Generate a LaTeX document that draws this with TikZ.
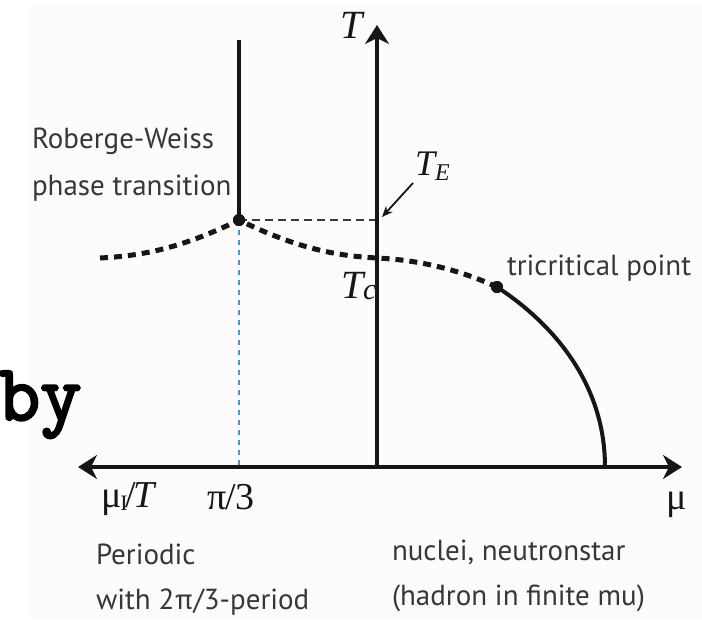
\documentclass[tikz,border=0pt]{standalone}
\usepackage{fontspec}
\setmainfont{PT Sans}
\newfontfamily\tmsfont{Liberation Serif}
\newfontfamily\slidefont[FakeBold=3]{Latin Modern Mono}
\usetikzlibrary{arrows.meta}

\definecolor{ink}{RGB}{22,22,22}
\definecolor{txtgray}{RGB}{55,55,55}
\definecolor{rwblue}{RGB}{70,150,210}
\definecolor{paper}{RGB}{253,251,252}

\begin{document}
\begin{tikzpicture}[x=1pt, y=-1pt,
  every node/.style={inner sep=0pt, outer sep=0pt},
  axis/.style={draw=ink, line width=4pt},
  axistip/.style={-{Stealth[length=19pt, width=24pt, inset=6pt]}},
  boundary/.style={draw=ink, line width=4pt},
  crossover/.style={draw=ink, line width=5pt, dash pattern=on 8pt off 6pt},
  guide/.style={draw=ink!85, line width=1.5pt, dash pattern=on 8pt off 5pt},
  rwguide/.style={draw=rwblue, line width=2.5pt, dash pattern=on 5pt off 5pt},
  pointer/.style={draw=ink, line width=1.8pt, -{Stealth[length=11pt, width=9pt]}},
  dot/.style={circle, fill=ink, minimum size=12pt},
  txt/.style={font=\fontsize{29}{29}\selectfont, text=txtgray, anchor=base west},
  mth/.style={font=\fontsize{38}{38}\selectfont\tmsfont, text=ink, anchor=base west},
  slide/.style={font=\fontsize{80}{80}\selectfont\slidefont, anchor=base west}
]
  \useasboundingbox (0,0) rectangle (702,619);
  \fill[paper] (30,3) rectangle (702,619);

  % --- leftovers of the slide text ---
  \node[slide] (frag) at (58,-22) {g};
  \node[slide] (by) at (-1,420) {by};

  % --- key points ---
  \coordinate (orig) at (377,467);
  \coordinate (ttop) at (377,25);
  \coordinate (muleft) at (78,467);
  \coordinate (muright) at (682,467);
  \coordinate (rwtop) at (239,40);
  \coordinate (rwfoot) at (239,467);
  \coordinate (te) at (377,220);
  \coordinate (tc) at (377,258);
  \coordinate (cleft) at (100,258);
  \coordinate (arcfoot) at (605,467);
  \coordinate (tefrom) at (413,183);
  \coordinate (teto) at (382,217);
  \node[dot] (rw) at (239,220) {};
  \node[dot] (tcp) at (497,287) {};

  % guides from the RW end point
  \draw[rwguide] (rw.center) -- (rwfoot);
  \draw[guide] (rw.center) -- (te);

  % axes
  \draw[axis, axistip] (orig) -- (ttop);
  \draw[axis, {Stealth[length=19pt, width=24pt, inset=6pt]}-{Stealth[length=19pt, width=24pt, inset=6pt]}] (muleft) -- (muright);

  % RW line, crossover, first order line
  \draw[boundary] (rw.center) -- (rwtop);
  \draw[crossover] (cleft) .. controls (138,256) and (178,250) .. (rw.center)
    .. controls (300,250) and (340,256) .. (tc)
    .. controls (420,260) and (460,270) .. (tcp.center);
  \draw[boundary] (tcp.center) .. controls (555,325) and (605,385) .. (arcfoot);
  \node[dot] at (rw.center) {};
  \node[dot] at (tcp.center) {};

  \draw[pointer] (tefrom) -- (teto);

  % --- labels ---
  \node[mth, font=\fontsize{40}{40}\selectfont\tmsfont\itshape] (tlab) at (340,38) {T};
  \node[mth, font=\fontsize{36}{36}\selectfont\tmsfont\itshape] (telab) at (415,175)
    {T\raisebox{-5pt}{\fontsize{24}{24}\selectfont E}};
  \node[mth, font=\fontsize{40}{40}\selectfont\tmsfont\itshape] (tclab) at (341,298)
    {T\raisebox{-1pt}{\fontsize{30}{30}\selectfont c}};
  \node[mth] (mulab) at (101,507)
    {μ\kern-1pt\raisebox{-3pt}{\fontsize{22}{22}\selectfont I}\kern-2pt/\kern-3pt\textit{T}};
  \node[mth] (pilab) at (207,509) {π\kern-1pt/3};
  \node[mth] (mulabr) at (666,509) {μ};

  \node[txt] (rwlab) at (32,148) {Roberge-Weiss};
  \node[txt] (rwlab2) at (32,195) {phase transition};
  \node[txt] (tcplab) at (507,275) {tricritical point};
  \node[txt] (perlab) at (96,564) {Periodic};
  \node[txt] (perlab2) at (96,609) {with 2π/3-period};
  \node[txt] (nuclab) at (392,560) {nuclei, neutronstar};
  \node[txt] (nuclab2) at (392,605) {(hadron in finite mu)};
\end{tikzpicture}
\end{document}
